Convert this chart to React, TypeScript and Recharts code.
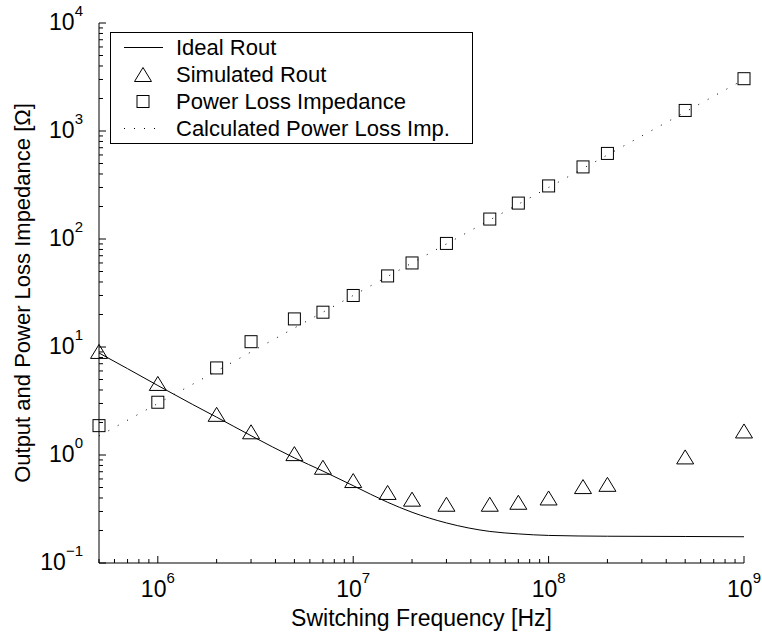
import { ComposedChart, Line, Scatter, XAxis, YAxis, Legend } from 'recharts';

const FONT = '"Liberation Sans", Arial, Helvetica, sans-serif';
const FS = 23;

// solid curve
const idealFreq = [5e5, 7e5, 1e6, 1.5e6, 2e6, 3e6, 5e6, 7e6, 1e7, 1.5e7, 2e7, 3e7, 5e7, 7e7, 1e8, 2e8, 5e8, 1e9];
const idealRout = [8.8, 6.3, 4.4, 2.95, 2.24, 1.51, 0.94, 0.71, 0.52, 0.365, 0.295, 0.235, 0.196, 0.186, 0.18, 0.177, 0.176, 0.175];

// measured points (triangles and squares share the same frequencies)
const measFreq = [5e5, 1e6, 2e6, 3e6, 5e6, 7e6, 1e7, 1.5e7, 2e7, 3e7, 5e7, 7e7, 1e8, 1.5e8, 2e8, 5e8, 1e9];
const simRout = [9.1, 4.6, 2.38, 1.64, 1.03, 0.77, 0.58, 0.45, 0.39, 0.35, 0.35, 0.365, 0.4, 0.51, 0.535, 0.96, 1.67];
const lossImp = [1.87, 3.08, 6.4, 11.2, 18.2, 21, 30, 45.5, 60, 91, 153, 215, 310, 465, 620, 1550, 3050];

// dotted calculated line
const calcFreq = [5e5, 1e6, 1e7, 1e8, 1e9];
const calcImp = [1.5, 3, 30, 300, 3000];

const xDecades = [1e5, 1e6, 1e7, 1e8];
const yDecades = [0.1, 1, 10, 100, 1000];
const minorSteps = [1, 2, 3, 4, 5, 6, 7, 8, 9];

const xTicks = [...xDecades.flatMap((d) => minorSteps.map((m) => m * d)), 1e9].filter((v) => v >= 5e5);
const yTicks = [...yDecades.flatMap((d) => minorSteps.map((m) => +(m * d).toPrecision(3))), 1e4];

const idealData = idealFreq.map((f, i) => ({ f, v: idealRout[i] }));
const simData = measFreq.map((f, i) => ({ f, v: simRout[i] }));
const lossData = measFreq.map((f, i) => ({ f, v: lossImp[i] }));
const calcData = calcFreq.map((f, i) => ({ f, v: calcImp[i] }));

const isMajor = (v: number) => Math.abs(Math.log10(v) - Math.round(Math.log10(v))) < 1e-6;
const expText = (v: number) => {
  const e = Math.round(Math.log10(v));
  return e < 0 ? `\u2212${-e}` : `${e}`;
};

const MAJOR = 7;
const MINOR = 4;

function Pow({ v, ...rest }: any) {
  return (
    <text fontSize={FS} fontFamily={FONT} fill="#000" {...rest}>
      10
      <tspan dy={-14} fontSize={15}>
        {expText(v)}
      </tspan>
    </text>
  );
}

function BottomTick({ x, y, payload }: any) {
  const major = isMajor(payload.value);
  return (
    <g>
      <line x1={x} x2={x} y1={y} y2={y - (major ? MAJOR : MINOR)} stroke="#000" />
      {major && <Pow v={payload.value} x={x} y={y + 34} textAnchor="middle" />}
    </g>
  );
}

function TopTick({ x, y, payload }: any) {
  const major = isMajor(payload.value);
  return <line x1={x} x2={x} y1={y} y2={y + (major ? MAJOR : MINOR)} stroke="#000" />;
}

function LeftTick({ x, y, payload }: any) {
  const major = isMajor(payload.value);
  return (
    <g>
      <line x1={x} x2={x + (major ? MAJOR : MINOR)} y1={y} y2={y} stroke="#000" />
      {major && <Pow v={payload.value} x={x - 16} y={y + 7} textAnchor="end" />}
    </g>
  );
}

function RightTick({ x, y, payload }: any) {
  const major = isMajor(payload.value);
  return <line x1={x} x2={x - (major ? MAJOR : MINOR)} y1={y} y2={y} stroke="#000" />;
}

function Triangle({ cx, cy }: any) {
  if (cx == null || cy == null) return null;
  return <polygon points={`${cx},${cy - 7} ${cx - 8.5},${cy + 7} ${cx + 8.5},${cy + 7}`} fill="none" stroke="#000" />;
}

function Square({ cx, cy }: any) {
  if (cx == null || cy == null) return null;
  return <rect x={cx - 6} y={cy - 6} width={12} height={12} fill="none" stroke="#000" />;
}

const legendRows = [
  { name: 'Ideal Rout', icon: <line x1={13} x2={52} y1={13.5} y2={13.5} stroke="#000" /> },
  { name: 'Simulated Rout', icon: <Triangle cx={32} cy={13.5} /> },
  { name: 'Power Loss Impedance', icon: <Square cx={32} cy={13.5} /> },
  {
    name: 'Calculated Power Loss Imp.',
    icon: <line x1={13} x2={52} y1={13.5} y2={13.5} stroke="#000" strokeDasharray="1 9" />,
  },
];

function LegendBox() {
  return (
    <div
      style={{
        border: '1px solid #000',
        background: '#fff',
        width: 361,
        height: 109,
        fontFamily: FONT,
        fontSize: 22,
        color: '#000',
        paddingTop: 1,
        boxSizing: 'content-box',
      }}
    >
      {legendRows.map((r) => (
        <div key={r.name} style={{ display: 'flex', alignItems: 'center', height: 27 }}>
          <svg width={52} height={27} style={{ display: 'block' }}>
            {r.icon}
          </svg>
          <span style={{ marginLeft: 13, lineHeight: '27px', whiteSpace: 'nowrap' }}>{r.name}</span>
        </div>
      ))}
    </div>
  );
}

export default function App() {
  return (
    <div style={{ position: 'absolute', left: 0, top: 0, background: '#fff' }}>
      <ComposedChart width={762} height={636} margin={{ top: 23, right: 18, bottom: 0, left: 0 }}>
        <XAxis
          dataKey="f"
          type="number"
          scale="log"
          domain={[5e5, 1e9]}
          ticks={xTicks}
          interval={0}
          tickSize={0}
          tickMargin={0}
          height={73}
          tick={<BottomTick />}
          axisLine={{ stroke: '#000' }}
          label={{
            value: 'Switching Frequency [Hz]',
            position: 'insideBottom',
            offset: 10,
            fill: '#000',
            fontSize: FS,
            fontFamily: FONT,
          }}
        />
        <XAxis
          xAxisId="top"
          orientation="top"
          dataKey="f"
          type="number"
          scale="log"
          domain={[5e5, 1e9]}
          ticks={xTicks}
          interval={0}
          tickSize={0}
          tickMargin={0}
          height={0}
          tick={<TopTick />}
          axisLine={{ stroke: '#000' }}
        />
        <YAxis
          type="number"
          scale="log"
          domain={[0.1, 10000]}
          ticks={yTicks}
          interval={0}
          tickSize={0}
          tickMargin={0}
          width={99}
          tick={<LeftTick />}
          axisLine={{ stroke: '#000' }}
          label={{
            value: 'Output and Power Loss Impedance [\u03A9]',
            angle: -90,
            position: 'insideLeft',
            offset: 22,
            fill: '#000',
            fontSize: 22,
            fontFamily: FONT,
            style: { textAnchor: 'middle' },
          }}
        />
        <YAxis
          yAxisId="right"
          orientation="right"
          type="number"
          scale="log"
          domain={[0.1, 10000]}
          ticks={yTicks}
          interval={0}
          tickSize={0}
          tickMargin={0}
          width={0}
          tick={<RightTick />}
          axisLine={{ stroke: '#000' }}
        />
        <Legend
          layout="vertical"
          align="center"
          verticalAlign="middle"
          wrapperStyle={{ left: 110, top: 32, width: 363, height: 111 }}
          content={() => <LegendBox />}
        />
        <Line
          data={idealData}
          dataKey="v"
          name="Ideal Rout"
          type="monotone"
          stroke="#000"
          strokeWidth={1}
          dot={false}
          activeDot={false}
          isAnimationActive={false}
        />
        <Line
          data={calcData}
          dataKey="v"
          name="Calculated Power Loss Imp."
          type="linear"
          stroke="#000"
          strokeWidth={1}
          strokeDasharray="1 9.7"
          dot={false}
          activeDot={false}
          isAnimationActive={false}
        />
        <Scatter data={simData} dataKey="v" name="Simulated Rout" shape={<Triangle />} isAnimationActive={false} />
        <Scatter data={lossData} dataKey="v" name="Power Loss Impedance" shape={<Square />} isAnimationActive={false} />
      </ComposedChart>
    </div>
  );
}
